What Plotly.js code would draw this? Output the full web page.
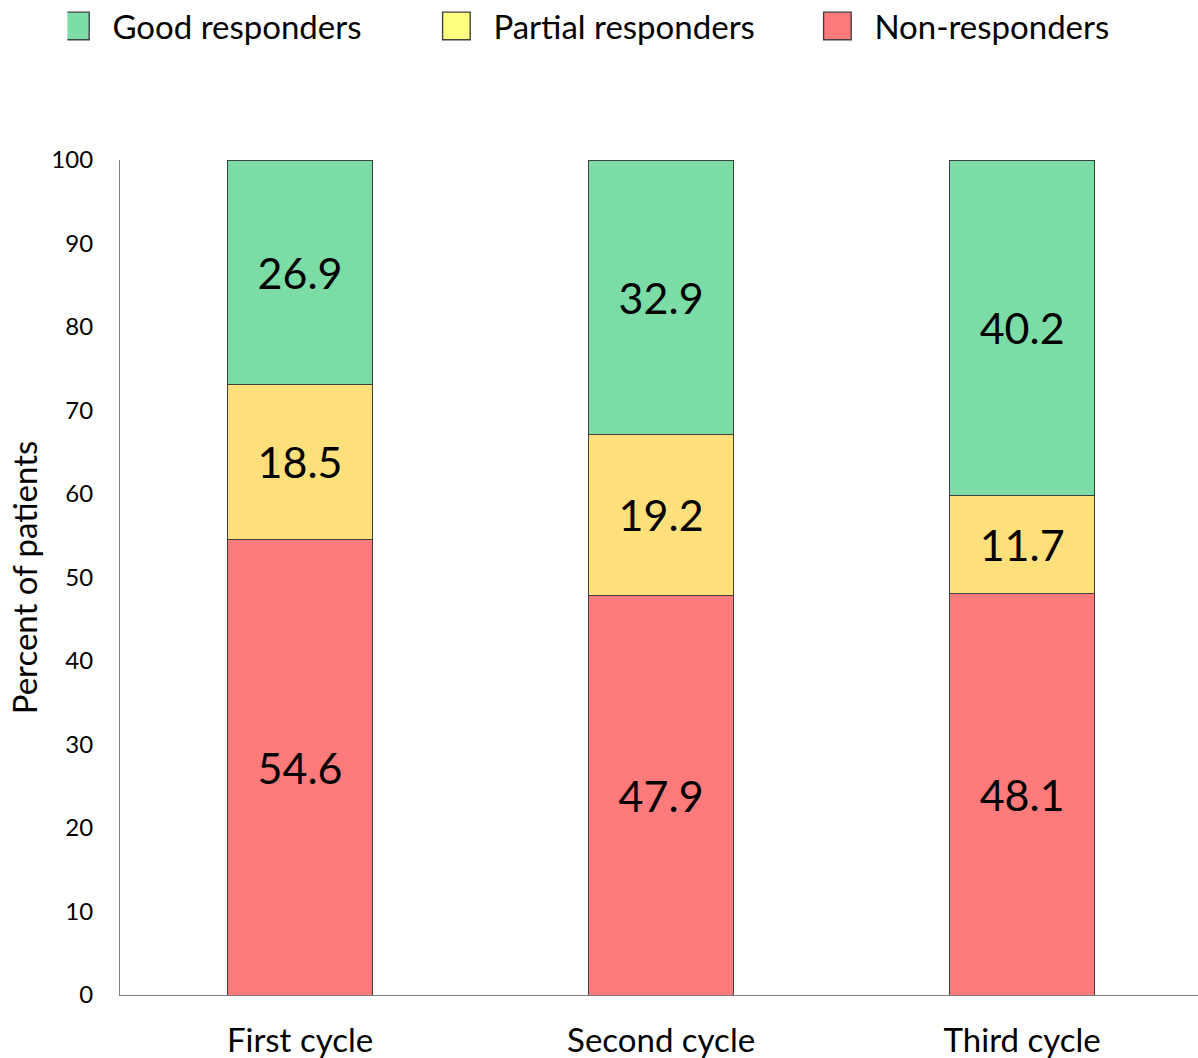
<!DOCTYPE html>
<html>
<head>
<meta charset="utf-8">
<script src="https://cdn.plot.ly/plotly-3.0.1.min.js"></script>
<style>html,body{margin:0;padding:0;background:#fff;}</style>
</head>
<body>
<div id="chart" style="width:1198px;height:1058px;"></div>
<script>
const categories = ["First cycle", "Second cycle", "Third cycle"];
const nonResponders = [54.6, 47.9, 48.1];
const partialResponders = [18.5, 19.2, 11.7];
const goodResponders = [26.9, 32.9, 40.2];
const yTicks = [0, 10, 20, 30, 40, 50, 60, 70, 80, 90, 100];

const FONT = "Lato, 'Open Sans', sans-serif";
const outline = {color: "#404040", width: 1};

function mk(name, vals, color) {
  return {
    type: "bar", name: name, x: categories, y: vals,
    text: vals.map(v => v.toFixed(1)),
    textposition: "inside", insidetextanchor: "middle", textangle: 0,
    constraintext: "none",
    textfont: {family: FONT, size: 43, color: "#000"},
    marker: {color: color, line: outline},
    width: 0.4, hoverinfo: "name+y"
  };
}

const data = [
  mk("Non-responders", nonResponders, "#FF7B7B"),
  mk("Partial responders", partialResponders, "#FFE07A"),
  mk("Good responders", goodResponders, "#7BDCA5")
];

const layout = {
  width: 1198, height: 1058,
  margin: {l: 120, r: 0, t: 160, b: 63, autoexpand: false},
  barmode: "stack",
  paper_bgcolor: "#fff", plot_bgcolor: "#fff",
  font: {family: FONT, color: "#000"},
  showlegend: true,
  legend: {
    orientation: "h", traceorder: "reversed",
    x: -0.0488, xanchor: "left", y: 1.194, yanchor: "top",
    font: {family: FONT, size: 33, color: "#000"},
    entrywidth: 331, entrywidthmode: "pixels", itemwidth: 35
  },
  xaxis: {
    type: "category", range: [-0.4986, 2.487],
    showline: true, linecolor: "#7f7f7f", linewidth: 1.2,
    ticks: "", showgrid: false, zeroline: false,
    tickfont: {family: FONT, size: 33, color: "#000"},
    ticklabelstandoff: 16
  },
  yaxis: {
    range: [0, 100], tickvals: yTicks, ticktext: yTicks.map(String),
    showline: true, linecolor: "#7f7f7f", linewidth: 1.2,
    ticks: "", showgrid: false, zeroline: false,
    tickfont: {family: FONT, size: 24, color: "#000"},
    ticklabelstandoff: 21,
    title: {text: "Percent of patients", font: {family: FONT, size: 33, color: "#000"}, standoff: 3}
  }
};

Plotly.newPlot("chart", data, layout, {displayModeBar: false}).then(function(){
  document.querySelectorAll(".legend .traces").forEach(function(t){
    var p = t.querySelector(".legendpoints path");
    if (!p) return;
    p.setAttribute("transform", "translate(8,0) scale(2.3)");
    p.style.strokeWidth = "0.6px";
    var txt = t.querySelector("text.legendtext");
    if (txt && txt.textContent === "Partial responders") p.style.fill = "#FFFF80";
  });
});
</script>
</body>
</html>
